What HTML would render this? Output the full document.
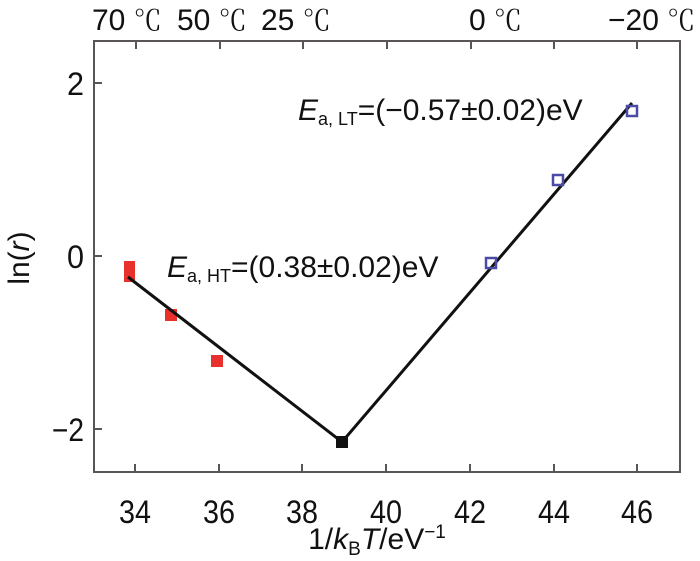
<!DOCTYPE html>
<html><head><meta charset="utf-8"><style>
html,body{margin:0;padding:0;background:#fff;}
svg{display:block;font-family:"Liberation Sans","Noto Sans CJK SC",sans-serif;}
.c{font-family:"Noto Serif CJK SC","Liberation Serif",serif;}
</style></head><body>
<svg width="700" height="561" viewBox="0 0 700 561" xmlns="http://www.w3.org/2000/svg">
<rect x="94" y="41" width="586" height="431" fill="none" stroke="#5a5555" stroke-width="2"/>
<g stroke="#5a5555" stroke-width="2">
<line x1="135" y1="472" x2="135" y2="464"/><line x1="219" y1="472" x2="219" y2="464"/>
<line x1="302" y1="472" x2="302" y2="464"/><line x1="386" y1="472" x2="386" y2="464"/>
<line x1="470" y1="472" x2="470" y2="464"/><line x1="554" y1="472" x2="554" y2="464"/>
<line x1="637" y1="472" x2="637" y2="464"/>
<line x1="136" y1="41" x2="136" y2="49"/><line x1="220" y1="41" x2="220" y2="49"/>
<line x1="303" y1="41" x2="303" y2="49"/><line x1="387" y1="41" x2="387" y2="49"/>
<line x1="471" y1="41" x2="471" y2="49"/><line x1="554" y1="41" x2="554" y2="49"/>
<line x1="637" y1="41" x2="637" y2="49"/>
<line x1="94" y1="83" x2="102" y2="83"/><line x1="94" y1="256" x2="102" y2="256"/>
<line x1="94" y1="429" x2="102" y2="429"/>
</g>
<g font-size="32" fill="#111" text-anchor="middle">
<text x="135" y="523" textLength="32" lengthAdjust="spacingAndGlyphs">34</text>
<text x="219" y="523" textLength="32" lengthAdjust="spacingAndGlyphs">36</text>
<text x="302" y="523" textLength="32" lengthAdjust="spacingAndGlyphs">38</text>
<text x="386" y="523" textLength="32" lengthAdjust="spacingAndGlyphs">40</text>
<text x="470" y="523" textLength="32" lengthAdjust="spacingAndGlyphs">42</text>
<text x="554" y="523" textLength="32" lengthAdjust="spacingAndGlyphs">44</text>
<text x="637" y="523" textLength="32" lengthAdjust="spacingAndGlyphs">46</text>
</g>
<g font-size="32" fill="#111" text-anchor="end">
<text x="84" y="95" textLength="17" lengthAdjust="spacingAndGlyphs">2</text>
<text x="84" y="268" textLength="17" lengthAdjust="spacingAndGlyphs">0</text>
<text x="84" y="441" textLength="32" lengthAdjust="spacingAndGlyphs">−2</text>
</g>
<g font-size="30" fill="#111">
<text x="92" y="30">70 <tspan class="c" font-size="28">℃</tspan></text>
<text x="177" y="30">50 <tspan class="c" font-size="28">℃</tspan></text>
<text x="261" y="30">25 <tspan class="c" font-size="28">℃</tspan></text>
<text x="469" y="30">0 <tspan class="c" font-size="28">℃</tspan></text>
<text x="608" y="30">−20 <tspan class="c" font-size="28">℃</tspan></text>
</g>
<text x="377" y="549" font-size="30" fill="#111" text-anchor="middle">1/<tspan font-style="italic">k</tspan><tspan font-size="19" dy="6">B</tspan><tspan font-style="italic" dy="-6">T</tspan>/eV<tspan font-size="19" dy="-11">−1</tspan></text>
<text transform="translate(29,258) rotate(-90)" font-size="30" fill="#111" text-anchor="middle">ln(<tspan font-style="italic">r</tspan>)</text>
<text x="298" y="120" font-size="30" fill="#111"><tspan font-style="italic">E</tspan><tspan font-size="18" dy="5">a, LT</tspan><tspan dy="-5">=(−0.57±0.02)eV</tspan></text>
<text x="167" y="277" font-size="30" fill="#111"><tspan font-style="italic">E</tspan><tspan font-size="18" dy="5">a, HT</tspan><tspan dy="-5">=(0.38±0.02)eV</tspan></text>
<g fill="#e8302c">
<rect x="124" y="261" width="11" height="21"/>
<rect x="165" y="309" width="12" height="12"/>
<rect x="211" y="355" width="12" height="12"/>
</g>
<polyline points="128,277 342,442 632,103" fill="none" stroke="#111" stroke-width="3"/>
<rect x="336" y="436" width="12" height="12" fill="#111"/>
<g fill="none" stroke="#4b4ba6" stroke-width="2.5">
<rect x="486" y="258" width="10" height="10"/>
<rect x="553" y="175" width="10" height="10"/>
<rect x="627" y="106" width="10" height="10"/>
</g>
</svg>
</body></html>
